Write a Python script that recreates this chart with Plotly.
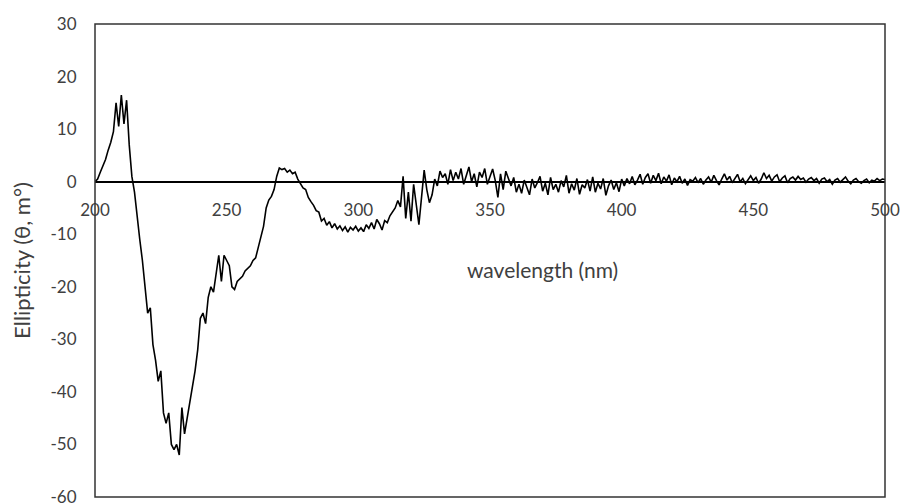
import plotly.graph_objects as go

wl_start = 200
wl_step = 1

ellipticity = [
    # 200-219
    0.0, 0.5, 1.8, 3.0, 4.2, 6.0, 7.5, 9.5, 15.0, 10.5,
    16.5, 11.0, 15.5, 7.0, 1.0, -2.0, -7.0, -11.0, -15.0, -20.0,
    # 220-239
    -25.0, -24.0, -31.0, -34.0, -38.0, -36.0, -44.0, -46.0, -44.0, -50.0,
    -51.0, -50.0, -52.0, -43.0, -48.0, -45.0, -42.0, -39.0, -36.0, -32.0,
    # 240-259
    -26.0, -25.0, -27.0, -22.0, -20.0, -21.0, -17.0, -14.0, -19.0, -14.0,
    -15.0, -16.0, -20.0, -20.5, -19.0, -18.5, -18.0, -17.0, -16.5, -16.0,
    # 260-279
    -15.0, -14.5, -12.5, -10.5, -8.5, -5.0, -3.5, -2.8, -1.5, 1.0,
    2.6, 2.3, 2.5, 1.8, 2.2, 1.5, 1.8, 0.5, -0.3, -1.2,
    # 280-299
    -1.5, -3.0, -3.8, -4.5, -5.5, -5.8, -7.5, -7.0, -8.3, -7.6,
    -8.8, -8.0, -9.0, -8.4, -9.3, -8.6, -9.6, -8.7, -9.2, -8.5,
    # 300-319
    -9.4, -8.8, -9.5, -8.2, -8.9, -7.8, -9.0, -7.2, -8.0, -9.2,
    -7.4, -7.8, -6.5, -5.8, -5.0, -3.6, -4.8, 1.0, -7.0, -2.0,
    # 320-339
    -7.5, -0.5, -4.0, -8.2, -3.0, 2.2, -1.5, -4.0, -2.5, 0.5,
    -0.8, 2.0, 0.8, 1.5, -0.5, 2.3, 0.2, 1.8, 0.5, 2.5,
    # 340-359
    -0.5, 1.2, 2.8, 0.0, 1.5, -1.0, 1.8, 0.8, 2.5, -0.5,
    1.0, 2.4, 0.2, -3.0, 1.5, -1.5, 2.0, 0.5, -0.8, 0.8,
    # 360-379
    -2.0, -0.5, -2.2, 0.3, -1.0, -2.5, 0.5, -1.2, -0.2, 1.0,
    -1.8, -0.3, -2.5, 0.8, -1.5, -0.5, -2.0, 0.2, -1.0, 1.2,
    # 380-399
    -2.2, -0.4, -1.6, 0.6, -2.4, -0.6, -1.2, 0.4, -1.8, 0.9,
    -2.0, -0.3, -1.4, 0.6, -2.6, -0.8, 0.3, -1.5, -0.2, -1.9,
    # 400-419
    0.5, -0.8, 0.6, -0.4, 1.0, -0.6, 0.3, 1.4, -0.5, 0.8,
    1.5, -0.3, 1.2, 0.2, 1.6, -0.4, 0.9, 0.1, 1.3, -0.6,
    # 420-439
    0.7, 0.0, 1.0, -0.3, 0.5, -0.7, 0.4, 0.1, 0.8, -0.2,
    0.6, -0.5, 0.3, 0.9, -0.1, 1.2, 0.2, -0.6, 0.5, 1.5,
    # 440-459
    0.3, 1.0, -0.2, 0.7, 1.4, 0.0, 0.6, -0.4, 0.4, 1.1,
    0.2, 0.8, -0.3, 0.5, 1.7, 0.6, 1.2, 0.1, 0.9, 1.3,
    # 460-479
    0.0, 0.7, 1.1, -0.2, 0.6, 0.9, 0.3, 1.0, 0.4, 0.7,
    -0.1, 0.5, 0.8, 0.2, 0.6, -0.3, 0.5, 0.7, 0.0, 0.4,
    # 480-500
    -0.5, 0.3, 0.6, -0.1, 0.4, 0.9, 0.1, -0.4, 0.3, 0.6,
    0.0, -0.3, 0.2, 0.5, -0.2, 0.3, 0.1, 0.6, 0.2, 0.5,
    0.4,
]
wavelength = [wl_start + i * wl_step for i in range(len(ellipticity))]

x_ticks = [200, 250, 300, 350, 400, 450, 500]
x_tick_labels = ["200", "250", "300", "350", "400", "450", "500"]
y_ticks = [30, 20, 10, 0, -10, -20, -30, -40, -50, -60]
y_tick_labels = ["30", "20", "10", "0", "-10", "-20", "-30", "-40", "-50", "-60"]
x_title = "wavelength (nm)"
y_title = "Ellipticity (θ, m°)"

font_family = "Lato, 'Open Sans', sans-serif"
text_color = "#404040"

fig = go.Figure()
fig.add_trace(go.Scatter(
    x=wavelength, y=ellipticity, mode="lines",
    line=dict(color="black", width=1.6), showlegend=False,
))

y_min, y_max = -60, 30
zero_pos = (0 - y_min) / (y_max - y_min)

fig.update_layout(
    width=902, height=504,
    margin=dict(l=95, r=17, t=24, b=7, autoexpand=False),
    paper_bgcolor="white", plot_bgcolor="white",
    font=dict(family=font_family, color=text_color, size=16),
    xaxis=dict(
        range=[200, 500], tickvals=x_ticks, ticktext=x_tick_labels,
        showgrid=False, zeroline=False, automargin=False,
        anchor="free", position=zero_pos,
        showline=True, linecolor="black", linewidth=1.5,
        ticks="outside", ticklen=13, tickcolor="rgba(0,0,0,0)",
        tickfont=dict(size=17, color=text_color),
        ticklabeloverflow="allow",
    ),
    yaxis=dict(
        range=[y_min, y_max], tickvals=y_ticks, ticktext=y_tick_labels,
        showgrid=False, zeroline=False, showline=False, automargin=False,
        ticks="outside", ticklen=14, tickcolor="rgba(0,0,0,0)",
        tickfont=dict(size=17, color=text_color),
        ticklabeloverflow="allow",
        title=dict(text=y_title, font=dict(size=22, color=text_color), standoff=13),
    ),
    shapes=[dict(type="rect", xref="paper", yref="paper", x0=0, x1=1, y0=0, y1=1,
                 line=dict(color="#333333", width=1.5))],
    annotations=[dict(text=x_title, xref="paper", yref="paper", x=0.567, y=0.48,
                      showarrow=False, font=dict(size=21, color=text_color))],
)

fig.write_html(
    "out.html",
    config={"displayModeBar": False},
    post_script="document.body.style.margin='0';document.body.style.overflow='hidden';",
)
